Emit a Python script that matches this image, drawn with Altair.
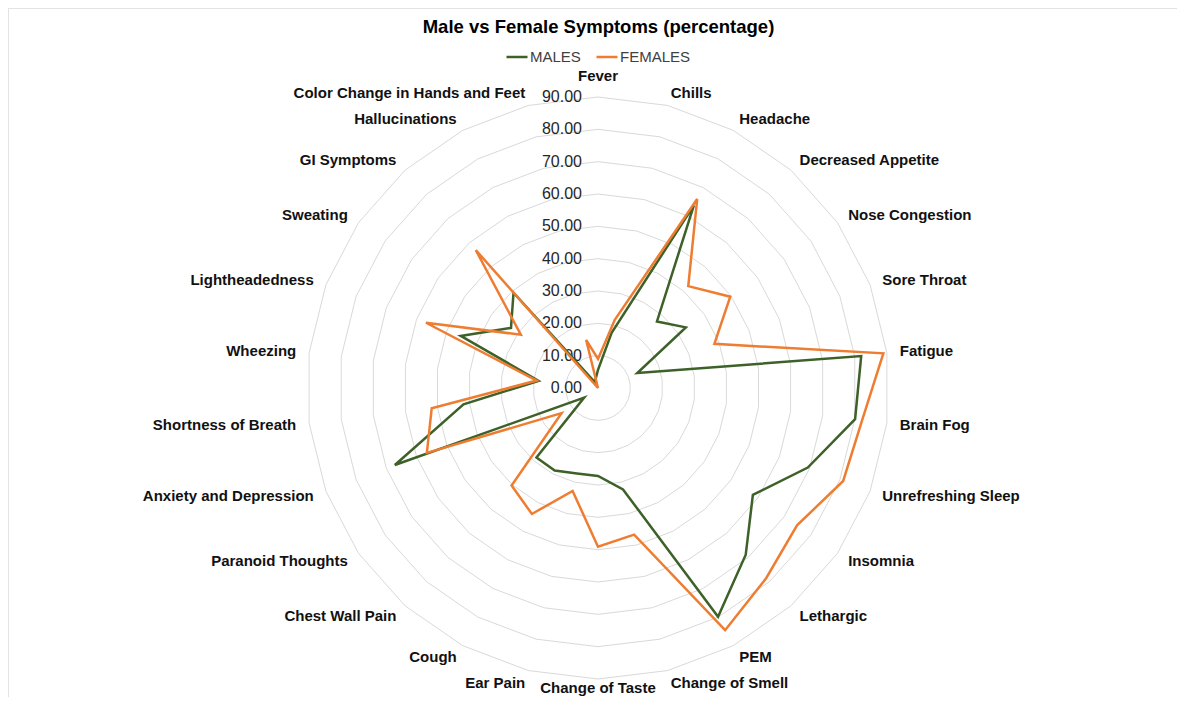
import math
import altair as alt
import pandas as pd

categories = [
    "Fever", "Chills", "Headache", "Decreased Appetite", "Nose Congestion",
    "Sore Throat", "Fatigue", "Brain Fog", "Unrefreshing Sleep", "Insomnia",
    "Lethargic", "PEM", "Change of Smell", "Change of Taste", "Ear Pain",
    "Cough", "Chest Wall Pain", "Paranoid Thoughts", "Anxiety and Depression",
    "Shortness of Breath", "Wheezing", "Lightheadedness", "Sweating",
    "GI Symptoms", "Hallucinations", "Color Change in Hands and Feet",
]
males = [5.6, 17.6, 63.8, 27.5, 33.0, 13.0, 82.0, 80.1, 69.4, 58.2, 68.9, 79.9,
         32.3, 27.2, 27.2, 28.8, 28.7, 5.2, 67.2, 41.9, 18.5, 45.4, 32.7, 39.4,
         2.0, 3.0]
females = [9.0, 21.7, 66.0, 42.1, 49.7, 38.5, 88.9, 82.3, 81.1, 74.8, 78.5, 84.6,
           46.7, 49.1, 32.8, 44.0, 40.3, 13.7, 56.6, 51.8, 19.1, 56.9, 29.0, 57.0,
           0.0, 15.3]
series_names = ["MALES", "FEMALES"]
levels = [0, 10, 20, 30, 40, 50, 60, 70, 80, 90]

GREEN = "#3d6128"
ORANGE = "#ee7d31"
FONT = "Liberation Sans"

N = len(categories)
S = 291 / 90.0          # pixels per percentage point
W, H = 1169, 629        # plot area
PAD_TOP = 60
CX, CY = 590, 320       # centre inside plot area
xdom = [-CX / S, (W - CX) / S]
ydom = [-(H - CY) / S, CY / S]
LABEL_R = 304 / S
LABEL_R_BOTTOM = (H - CY - 1) / S

rows = []
for name, vals in zip(series_names, [males, females]):
    for i, (c, v) in enumerate(zip(categories, vals)):
        rows.append({"series": name, "category": c, "idx": i, "value": v})
df = pd.DataFrame(rows)
grid = pd.DataFrame([{"level": l, "idx": i} for l in levels[1:] for i in range(N)])
ticks = pd.DataFrame({"level": levels})
cats = pd.DataFrame({"category": categories, "idx": list(range(N))})

xs = alt.Scale(domain=xdom, nice=False, zero=False)
ys = alt.Scale(domain=ydom, nice=False, zero=False)
theta = f"2*PI*datum.idx/{N}"


def X():
    return alt.X("x:Q", scale=xs, axis=None)


def Y():
    return alt.Y("y:Q", scale=ys, axis=None)


# light chart border (top and left edges, as in the reference frame)
border_top = alt.Chart(ticks).mark_rule(color="#e3e3e3", strokeWidth=1).encode(
    x=alt.value(0), x2=alt.value(W), y=alt.value(-PAD_TOP + 0.5)
)
border_left = alt.Chart(ticks).mark_rule(color="#e3e3e3", strokeWidth=1).encode(
    x=alt.value(0.5), y=alt.value(-PAD_TOP), y2=alt.value(H)
)

grid_layer = alt.Chart(grid).transform_calculate(
    x=f"datum.level*sin({theta})", y=f"datum.level*cos({theta})"
).mark_line(interpolate="linear-closed", stroke="#d9d9d9", strokeWidth=1).encode(
    x=X(), y=Y(), detail="level:N", order="idx:Q"
)

tick_layer = alt.Chart(ticks).transform_calculate(
    x="0", y="datum.level"
).mark_text(align="right", baseline="middle", dx=-16, fontSize=16, font=FONT,
            color="#262626").encode(
    x=X(), y=Y(), text=alt.Text("level:Q", format=".2f")
)

lines = alt.Chart(df).transform_calculate(
    x=f"datum.value*sin({theta})", y=f"datum.value*cos({theta})"
).mark_line(interpolate="linear-closed", strokeWidth=2.5).encode(
    x=X(), y=Y(), order="idx:Q",
    color=alt.Color(
        "series:N",
        scale=alt.Scale(domain=series_names, range=[GREEN, ORANGE]),
        legend=alt.Legend(
            title=None, orient="none", direction="horizontal",
            legendX=497, legendY=-23, symbolType="stroke",
            symbolStrokeWidth=2.5, symbolSize=441, labelFontSize=15,
            labelFont=FONT, labelColor="#404040", columnPadding=10,
            labelOffset=1,
        ),
    ),
)

lab = alt.Chart(cats).transform_calculate(
    s=f"sin({theta})", c=f"cos({theta})",
).transform_calculate(
    r=f"(abs(datum.s) <= 0.01 && datum.c < 0) ? {LABEL_R_BOTTOM} : {LABEL_R}",
).transform_calculate(
    x="datum.r*datum.s", y="datum.r*datum.c",
)


def lab_layer(cond, align, baseline):
    return lab.transform_filter(cond).mark_text(
        align=align, baseline=baseline, fontSize=15, fontWeight="bold",
        font=FONT, color="#111111"
    ).encode(x=X(), y=Y(), text="category:N")


labels = (
    lab_layer("datum.s > 0.01", "left", "middle")
    + lab_layer("datum.s < -0.01", "right", "middle")
    + lab_layer("abs(datum.s) <= 0.01 && datum.c > 0", "center", "bottom")
    + lab_layer("abs(datum.s) <= 0.01 && datum.c < 0", "center", "bottom")
)

chart = alt.layer(
    border_top, border_left, grid_layer, tick_layer, lines, labels
).properties(
    width=W, height=H,
    background="white",
    autosize=alt.AutoSizeParams(type="none"),
    padding={"left": 0, "top": PAD_TOP, "right": 0, "bottom": 0},
    title=alt.TitleParams(
        text="Male vs Female Symptoms (percentage)", fontSize=18.5,
        fontWeight="bold", font=FONT, color="#000000", anchor="middle",
        frame="group", dx=6, offset=-29,
    ),
).configure_view(stroke="transparent", strokeWidth=0)

chart.save("out.html", embed_options={"renderer": "svg", "actions": False})
